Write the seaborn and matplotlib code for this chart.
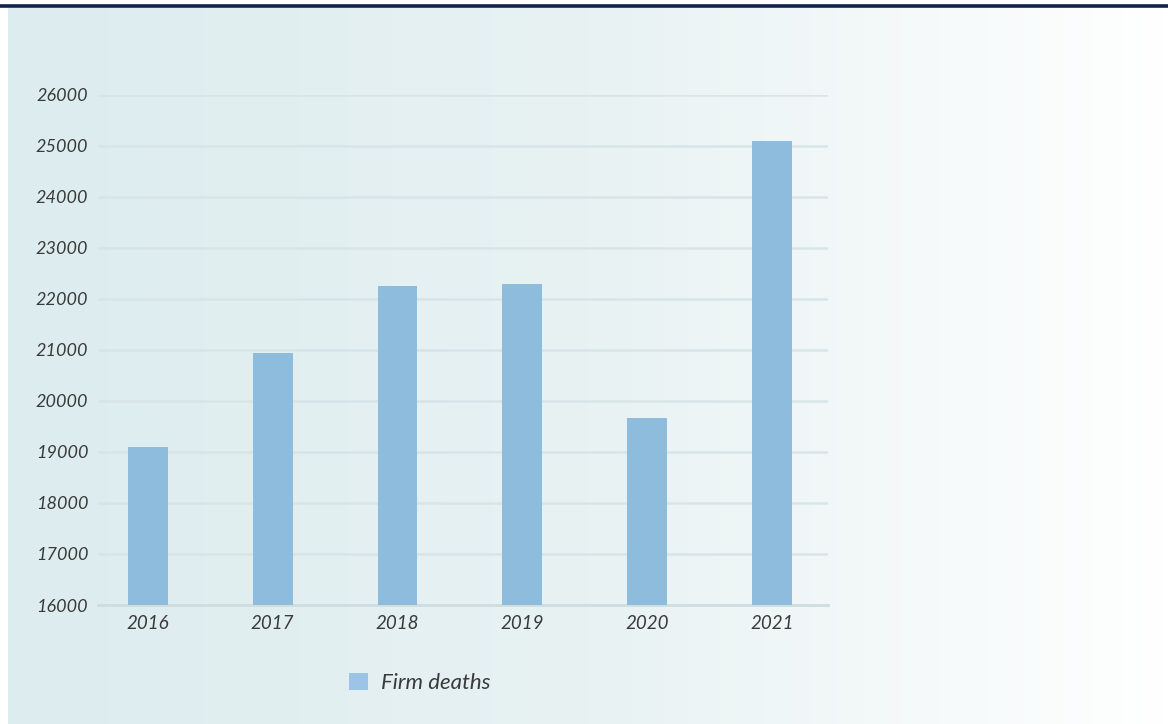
import numpy as np
import pandas as pd
import matplotlib
matplotlib.use("Agg")
import matplotlib.pyplot as plt
import seaborn as sns
from matplotlib.colors import LinearSegmentedColormap

years = ["2016", "2017", "2018", "2019", "2020", "2021"]
firm_deaths = [19100, 20950, 22255, 22295, 19670, 25100]
series_name = "Firm deaths"
yticks = list(range(16000, 26001, 1000))

sns.set_style("white")
plt.rcParams['font.family'] = ['Lato', 'DejaVu Sans']

df = pd.DataFrame({"year": years, "deaths": firm_deaths})

fig = plt.figure(figsize=(11.68, 7.24), dpi=100)
fig.patch.set_facecolor("white")

# gradient background panel
bg = fig.add_axes([8 / 1168, 0, 1 - 8 / 1168, 1 - 8 / 724])
cmap = LinearSegmentedColormap.from_list("bg", ["#dcecef", "#e8f2f3", "#ffffff"])
bg.imshow(np.linspace(0, 1, 256)[None, :], aspect="auto", cmap=cmap, extent=[0, 1, 0, 1])
bg.set_axis_off()

# navy top rule
fig.add_artist(plt.Line2D([0, 1], [1 - 5.5 / 724, 1 - 5.5 / 724], color="#10214d", lw=2.6,
                          transform=fig.transFigure))

ax = fig.add_axes([98 / 1168, 1 - 605 / 724, (828 - 98) / 1168, (605 - 95) / 724])
ax.patch.set_alpha(0)
sns.barplot(data=df, x="year", y="deaths", color="#8dbcdd", saturation=1, width=0.32,
            label=series_name, ax=ax, zorder=3, linewidth=0)
ax.set_ylim(16000, 26000)
ax.set_xlim(-0.4, 5.45)
ax.set_yticks(yticks)
ax.set_yticklabels([str(t) for t in yticks], fontsize=13, style="italic", color="#3a3a3a")
ax.set_xticks(range(len(years)))
ax.set_xticklabels(years, fontsize=13.5, style="italic", color="#3a3a3a")
ax.tick_params(axis="both", length=0)
ax.tick_params(axis="y", pad=7)
ax.tick_params(axis="x", pad=7)
ax.grid(axis="y", color="#d8e5e8", lw=1.8, zorder=0)
ax.set_axisbelow(True)
for s in ["top", "right", "left"]:
    ax.spines[s].set_visible(False)
ax.spines["bottom"].set_color("#cfdde0")
ax.spines["bottom"].set_linewidth(2)
ax.set_xlabel("")
ax.set_ylabel("")

leg = ax.legend(loc="center", bbox_to_anchor=(420 / 1168, 1 - 683 / 724), bbox_transform=fig.transFigure,
                frameon=False, prop={"size": 16, "style": "italic"},
                handlelength=0.85, handleheight=0.85, handletextpad=0.6)
for t in leg.get_texts():
    t.set_color("#3a3a3a")
for h in leg.legend_handles:
    h.set_color("#9dc3e6")

fig.savefig("out.png", dpi=100)
